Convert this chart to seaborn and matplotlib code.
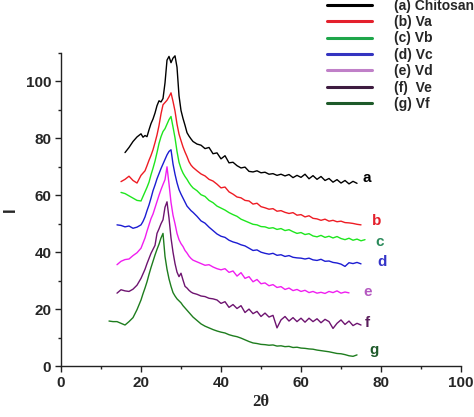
import numpy as np
import pandas as pd
import matplotlib
matplotlib.use("Agg")
import matplotlib.pyplot as plt
from matplotlib.lines import Line2D
from matplotlib.ticker import MultipleLocator
import seaborn as sns

nan = np.nan

# 2-theta grid (finer around the peak)
two_theta = [12, 13, 14, 15, 16, 17, 18, 19,
             20, 20.5, 21, 21.5, 22, 22.5, 23, 23.5, 24, 24.5, 25, 25.5, 26, 26.5,
             27, 27.5, 28, 28.5, 29, 29.5, 30, 30.5, 31, 31.5, 32, 32.5, 33,
             34, 35, 36, 37, 38, 39, 40, 41, 42, 43, 44, 45, 46, 47, 48, 49, 50,
             51, 52, 53, 54, 55, 56, 57, 58, 59, 60, 61, 62, 63, 64, 65, 66, 67,
             68, 69, 70, 71, 72, 73, 74, 75, 76]

chitosan = [nan, nan, nan, nan, 75.0, 76.8, 78.9, 80.5,
            81.6, 80.4, 81.0, 80.6, 83.0, 85.2, 86.8, 88.9, 91.5, 93.2, 92.8, 94.0, 99.5, 107.5,
            108.8, 106.6, 108.2, 109.0, 105.0, 95.0, 89.8, 87.0, 84.6, 82.0, 80.8, 79.8, 78.9,
            78.0, 77.6, 76.4, 76.8, 74.6, 74.9, 72.8, 73.9, 71.4, 71.6, 70.4, 69.6, 69.9, 68.4, 68.2, 68.6, 67.9,
            68.1, 67.4, 67.6, 67.0, 67.4, 66.8, 67.3, 66.2, 67.0, 66.3, 67.4, 65.8, 66.9, 65.6, 66.6, 65.2, 65.9,
            64.6, 65.5, 64.3, 65.2, 64.0, 64.9, 64.2, nan, nan]

va = [nan, nan, nan, 64.8, 65.6, 66.7, 65.2, 64.3,
      67.0, 67.8, 68.6, 70.4, 72.3, 74.0, 76.0, 78.5, 81.2, 84.5, 88.6, 91.8, 92.6, 93.4,
      94.6, 96.0, 93.0, 89.6, 85.0, 81.5, 79.2, 77.0, 75.2, 73.6, 71.8, 70.6, 69.8,
      68.6, 67.5, 66.8, 65.6, 65.0, 63.9, 62.6, 62.9, 61.2, 60.4, 59.4, 59.1, 58.2, 58.0, 56.9, 57.2, 56.0,
      55.6, 55.1, 55.3, 54.4, 54.6, 54.0, 53.6, 53.9, 53.0, 53.2, 52.4, 52.8, 51.9, 51.7, 51.2, 51.6, 50.9,
      51.2, 50.7, 50.9, 50.4, 50.3, 50.1, 49.8, 49.6, nan]

vb = [nan, nan, nan, 61.0, 60.6, 59.8, 59.0, 58.2,
      58.0, 59.6, 61.2, 62.8, 64.6, 67.2, 69.5, 72.0, 75.0, 78.2, 80.6, 82.4, 83.4, 85.0,
      86.6, 87.7, 84.0, 80.2, 75.4, 71.6, 69.4, 67.8, 66.6, 65.6, 64.4, 63.4, 62.6,
      61.6, 60.2, 59.6, 58.2, 57.4, 56.2, 55.5, 54.8, 53.9, 53.2, 52.6, 51.6, 51.0, 50.4, 49.8, 49.6, 49.0,
      48.9, 48.4, 48.6, 48.0, 48.3, 47.6, 47.9, 47.2, 46.6, 46.9, 46.2, 46.5, 45.7, 45.4, 45.9, 45.2, 45.6,
      45.0, 45.5, 44.8, 44.4, 44.9, 44.2, 44.6, 44.0, 44.4]

vc = [nan, nan, 49.6, 49.4, 48.9, 49.2, 48.4, 48.8,
      49.6, 50.8, 52.4, 54.6, 56.6, 59.0, 61.6, 63.6, 65.8, 67.6, 69.4, 71.0, 72.6, 74.2,
      75.4, 76.0, 71.0, 67.4, 64.4, 62.0, 60.4, 59.0, 57.6, 56.2, 55.4, 54.6, 54.0,
      52.6, 51.0, 50.2, 48.8, 47.6, 46.4, 45.6, 45.2, 44.2, 43.6, 43.2, 42.6, 42.2, 41.4, 40.6, 40.8, 40.0,
      39.6, 39.3, 39.6, 38.9, 39.1, 38.5, 38.8, 38.2, 38.0, 37.9, 37.6, 37.9, 37.3, 37.1, 37.5, 36.8, 36.9,
      36.4, 36.2, 35.8, 35.0, 36.3, 36.0, 36.4, 35.9, nan]

vd = [nan, nan, 35.6, 36.8, 37.4, 37.6, 38.8, 39.8,
      41.4, 43.2, 45.0, 47.4, 49.6, 51.8, 53.4, 55.6, 57.8, 60.0, 62.0, 63.8, 65.5, 70.0,
      64.0, 57.5, 53.0, 50.0, 46.6, 44.4, 43.0, 42.0, 40.6, 39.7, 38.6, 37.8, 37.2,
      36.6, 36.0, 35.4, 35.6, 34.8, 34.2, 33.8, 34.2, 32.9, 33.4, 31.6, 32.8, 30.8, 31.4, 29.6, 30.4, 28.9,
      29.2, 28.2, 28.6, 27.6, 27.9, 26.9, 27.4, 26.5, 26.9, 26.2, 26.6, 25.8, 26.2, 25.6, 25.9, 25.5, 26.2,
      25.8, 26.4, 25.6, 26.0, 25.7, nan, nan, nan, nan]

ve = [nan, nan, 25.6, 26.8, 26.4, 26.2, 27.0, 28.4,
      30.8, 32.4, 34.0, 36.0, 37.8, 39.6, 41.0, 42.4, 46.6, 48.2, 50.0, 51.4, 55.8, 57.7,
      52.0, 45.0, 40.0, 36.0, 33.0, 31.4, 32.6, 30.2, 28.0, 27.4, 26.6, 26.0, 25.6,
      25.2, 24.6, 24.4, 23.8, 23.6, 23.2, 22.0, 22.6, 20.6, 21.6, 20.2, 21.2, 18.8, 20.0, 18.4, 19.2, 17.4,
      18.6, 17.2, 17.8, 13.4, 16.2, 17.4, 15.8, 17.0, 15.6, 16.8, 15.4, 16.8, 15.6, 16.6, 15.2, 16.4, 15.6,
      13.2, 15.0, 16.2, 14.6, 15.8, 14.2, 15.0, 14.4, nan]

vf = [15.8, 15.6, 15.6, 15.0, 14.4, 15.6, 17.0, 19.8,
      23.2, 25.4, 27.4, 29.6, 32.2, 34.6, 36.8, 39.0, 41.0, 42.8, 45.0, 46.6, 38.5, 34.0,
      30.6, 28.0, 25.8, 24.6, 23.6, 22.9, 22.2, 21.2, 20.4, 19.6, 18.8, 18.0, 17.2,
      16.0, 14.8, 14.0, 13.4, 12.8, 12.3, 11.9, 11.6, 11.0, 10.6, 10.3, 9.8, 9.2, 8.6, 8.1, 7.9, 7.6,
      7.5, 7.3, 7.4, 7.0, 7.1, 6.8, 6.9, 6.5, 6.6, 6.3, 6.2, 6.0, 5.9, 5.6, 5.4, 5.2, 5.0,
      4.7, 4.4, 4.3, 4.0, 3.6, 3.4, 3.9, nan, nan]

samples = ["(a) Chitosan", "(b) Va", "(c) Vb", "(d) Vc", "(e) Vd", "(f)  Ve", "(g) Vf"]
curve_letters = ["a", "b", "c", "d", "e", "f", "g"]
series = [chitosan, va, vb, vc, vd, ve, vf]

line_colors = ["#000000", "#ee1c24", "#1ee61e", "#1c1cd2", "#f01ef0", "#6e1470", "#1e7d1e"]
legend_colors = ["#000000", "#e4202c", "#1ea64a", "#3434c0", "#c080c8", "#3e1c40", "#1e5a2a"]
letter_colors = ["#000000", "#e4202c", "#2a8a5a", "#3434c8", "#b458c0", "#5a1e5c", "#1e5a2a"]
label_offsets = [(5, 5), (11, 4), (10, -2), (16, 2), (14, 1), (4, 2), (12, 5)]

rows = []
for name, ys in zip(samples, series):
    for x, y in zip(two_theta, ys):
        rows.append({"two_theta": x, "I": y, "sample": name})
df = pd.DataFrame(rows).dropna()

sns.set_style("ticks")
plt.rcParams["font.family"] = ["Liberation Sans", "DejaVu Sans"]
plt.rcParams["font.weight"] = "bold"

fig = plt.figure(figsize=(4.74, 4.17), dpi=100)
ax = fig.add_axes([0.1287, 0.1223, 0.8439, 0.7506])

sns.lineplot(data=df, x="two_theta", y="I", hue="sample", hue_order=samples,
             palette=line_colors, estimator=None, linewidth=1.0, legend=False, ax=ax)

# curve end letters
for ys, letter, col, off in zip(series, curve_letters, letter_colors, label_offsets):
    xs = [x for x, y in zip(two_theta, ys) if not np.isnan(y)]
    yv = [y for y in ys if not np.isnan(y)]
    ax.annotate(letter, xy=(xs[-1], yv[-1]), xytext=off, textcoords="offset pixels",
                ha="left", va="center", fontsize=11, fontweight="bold", color=col)

ax.set_xlim(0, 100)
ax.set_ylim(0, 110)
ax.set_xticks([0, 20, 40, 60, 80, 100])
ax.set_yticks([0, 20, 40, 60, 80, 100])
ax.xaxis.set_minor_locator(MultipleLocator(10))
ax.yaxis.set_minor_locator(MultipleLocator(10))
ax.tick_params(which="major", direction="out", length=4.5, width=1, labelsize=11, pad=2.5, color="#222222")
ax.tick_params(which="minor", direction="out", length=2.5, width=1, color="#222222")
for lab in ax.get_xticklabels() + ax.get_yticklabels():
    lab.set_fontweight("bold")

sns.despine(ax=ax)
for s in ["left", "bottom"]:
    ax.spines[s].set_linewidth(1.0)
    ax.spines[s].set_color("#222222")

ax.set_xlabel("2\u03b8", fontsize=12, fontweight="bold", family=["Liberation Serif", "DejaVu Serif"], labelpad=3)
ax.set_ylabel("I", fontsize=12, fontweight="bold", labelpad=6)

handles = [Line2D([0], [0], color=c, lw=2.2) for c in legend_colors]
fig.legend(handles, samples, loc="upper left", bbox_to_anchor=(0.69, 1.003), frameon=False,
           prop={"weight": "bold", "size": 10}, handlelength=3.2, handletextpad=1.6,
           labelspacing=0.17, borderpad=0, borderaxespad=0)

fig.savefig("out.png", dpi=100)
